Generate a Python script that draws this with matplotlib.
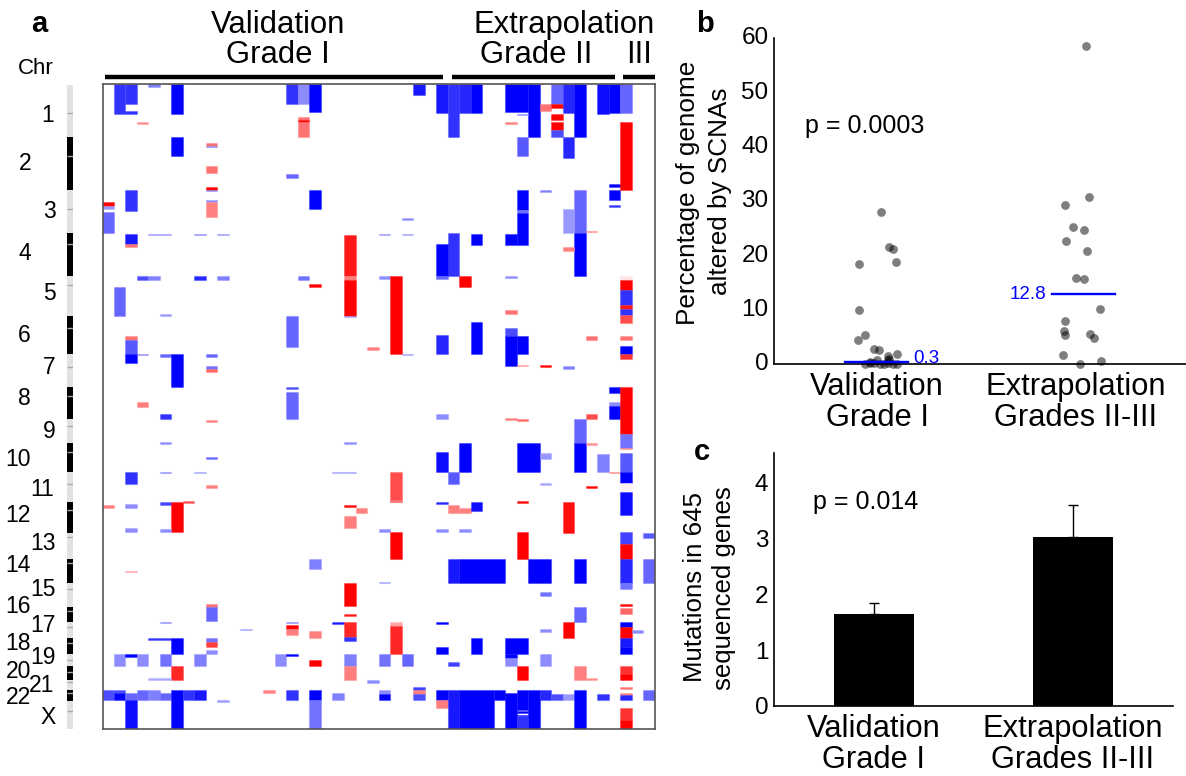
#!/bin/env python
# coding=utf-8

import matplotlib
matplotlib.use("Agg")
import matplotlib.pyplot as plt
from matplotlib.colors import LinearSegmentedColormap
from matplotlib.transforms import ScaledTranslation

plt.rcParams["font.family"] = ["Liberation Sans", "DejaVu Sans"]

W, H = 1186.0, 776.0

# 拷贝数片段: 首列, 末列, 基因组起点, 基因组终点, 水平 (负=缺失 蓝, 正=扩增 红)
validation_segs = [
    (1, 1, 84, 113.5, -.8), (2, 2, 84, 104, -.8), (2, 2, 111, 114, -.8), (4, 4, 84, 86.5, -.5),
    (6, 6, 84, 113.5, -1), (16, 16, 84, 104, -.8), (17, 17, 84, 104, -.45), (18, 18, 84, 112, -1),
    (3, 3, 122, 123.5, .45), (17, 17, 116.5, 120, .55), (17, 17, 120, 122, 1), (17, 17, 122, 137, .55),
    (6, 6, 137, 156, -1), (9, 9, 143, 146, .55), (9, 9, 146, 147, -.5), (9, 9, 166, 172.5, .55),
    (9, 9, 187, 190, 1), (9, 9, 190, 191, -.5), (9, 9, 199.5, 202, -.45), (9, 9, 202, 217, .5),
    (16, 16, 174, 178, -.6), (0, 0, 202, 206, 1), (0, 0, 206, 209, -.4), (0, 0, 211.5, 233, -.6),
    (2, 2, 190, 211, -.8), (18, 18, 190, 209, -1), (4, 5, 233.5, 234.5, -.45), (8, 8, 233.5, 234.5, -.5),
    (10, 10, 233.5, 234.5, -.45), (2, 2, 233.5, 244, -.9), (2, 2, 244, 247, .55), (24, 24, 233.5, 234.5, -.45),
    (26, 26, 233.5, 234.5, -.4), (26, 26, 218, 220, -.45), (21, 21, 235, 276, .9), (21, 21, 276, 280, .5),
    (21, 21, 280, 315.5, 1), (21, 21, 315.5, 317, -.4), (3, 3, 275.5, 280, -.7), (4, 4, 275.5, 280, -.5),
    (8, 8, 275.5, 280, -.85), (10, 10, 275.5, 280, -.5), (17, 17, 275.5, 280, -.55), (18, 18, 284, 286.5, 1),
    (1, 1, 286.5, 315.5, -.6), (5, 5, 314, 315.5, -.4), (16, 16, 315.5, 347, -.6), (2, 2, 336, 340, .55),
    (2, 2, 340, 354, -.65), (2, 2, 354, 363, -1), (3, 3, 354, 355, -.5), (5, 5, 354, 356.5, -.6),
    (6, 6, 354, 386.5, -1), (9, 9, 354, 356.5, -.6), (9, 9, 366, 369, -.55), (9, 9, 369, 371.5, .6),
    (16, 16, 386.5, 389, -.7), (16, 16, 392, 418.5, -.6), (3, 3, 401.5, 407, .5), (5, 5, 414, 418.5, -.8),
    (9, 9, 420, 421.5, .5), (5, 5, 442, 443.5, -.45), (21, 21, 442, 443.5, -.45), (9, 9, 457, 458.5, -.6),
    (5, 5, 472, 473, -.5), (8, 8, 472, 473, -.4), (20, 21, 472, 473, -.4), (2, 2, 472, 484, -.8),
    (9, 9, 485, 488, .5), (23, 23, 347, 350, .5), (24, 24, 275.5, 278.5, -.45), (25, 25, 275.5, 353.5, 1),
    (26, 26, 353.5, 355, -.4), (0, 0, 505, 507.7, .5), (2, 2, 503.5, 507.7, -.45), (5, 5, 502, 504.5, -.75),
    (6, 6, 502, 532, 1), (7, 7, 501, 502.5, .7), (2, 2, 528, 532, -.45), (5, 5, 528.5, 532, -.45),
    (24, 24, 528.5, 532, -.45), (21, 21, 505, 507, 1), (22, 22, 507.5, 513, .5), (21, 21, 516, 528, .5),
    (18, 18, 558.5, 569, -.5), (2, 2, 571, 572, .4), (24, 24, 582, 583, -.4), (21, 21, 583, 606, 1),
    (21, 21, 613.5, 616, .9), (9, 9, 604, 606.5, .55), (9, 9, 606.5, 621, -.6), (5, 5, 621.5, 623, -.5),
    (12, 12, 628.5, 630, -.4), (16, 16, 621.5, 623, -.5), (16, 16, 625, 628.5, 1), (16, 16, 628.5, 635, .5),
    (20, 20, 622, 623.5, -.9), (21, 21, 622, 637, .85), (21, 21, 637, 641, -.8), (18, 18, 631, 638, .5),
    (25, 25, 621.5, 626, .35), (25, 25, 626, 653.5, .85), (4, 5, 638, 639.5, -.8), (6, 6, 638, 653.5, -1),
    (9, 9, 638, 641.5, -.55), (9, 9, 641.5, 647, .75), (9, 9, 649.5, 653.5, -.45), (1, 1, 653.5, 666, -.45),
    (2, 2, 653.5, 656.5, -1), (3, 3, 653.5, 666, -.45), (5, 5, 653.5, 666, -.55), (8, 8, 653.5, 666, -.5),
    (15, 15, 653.5, 666, -.45), (16, 16, 653.5, 656, -1), (21, 21, 653.5, 666, -.5), (21, 21, 666, 679.5, .5),
    (24, 24, 653.5, 666, -.55), (26, 26, 653.5, 666, -.6), (6, 6, 666, 679.5, .85), (18, 18, 660, 666, 1),
    (4, 5, 678, 679.5, -.35), (23, 23, 680, 682.5, -.45), (25, 25, 472, 502, .7), (25, 25, 500, 502, .5),
    (25, 25, 532, 558.5, 1), (0, 0, 689.5, 700, -.7), (1, 1, 689.5, 693, -.7), (1, 1, 693, 700, -1),
    (2, 2, 693, 700, -.6), (2, 2, 700, 729, -.95), (3, 3, 689.5, 700, -.6), (4, 4, 689.5, 700, -.5),
    (5, 5, 693, 700, -.6), (6, 6, 689.5, 729, -1), (7, 7, 689.5, 700, -.8), (8, 8, 689.5, 700, -.9),
    (10, 10, 700, 702, -.4), (14, 14, 689.5, 693, .5), (16, 16, 689.5, 700, -.8), (18, 18, 689.5, 700, -1),
    (18, 18, 700, 729, -.55), (20, 20, 693, 700, -.5), (24, 24, 689.5, 693.5, -.45), (24, 24, 693.5, 700, -1),
    (27, 27, 686.5, 689.5, -.75), (27, 27, 689.5, 693.5, .5), (27, 27, 693.5, 700, -.7), (27, 27, 84, 94.5, -.9),
]

grade2_segs = [
    (29, 29, 84, 112.5, -.9), (30, 30, 84, 137, -.8), (31, 31, 84, 112.5, -.85), (32, 32, 84, 113, -1),
    (35, 36, 84, 112, -1), (37, 37, 84, 137, -1), (39, 39, 84, 104, -.6), (38, 38, 104, 111, .55),
    (39, 39, 104, 108, 1), (39, 39, 114, 120, 1), (39, 39, 122, 130, 1), (39, 39, 130, 137, -.7),
    (40, 40, 84, 112.5, -.85), (41, 41, 84, 137, -1), (36, 36, 113.5, 115, -.5), (35, 35, 122, 123.5, .5),
    (36, 36, 137, 156, -.65), (40, 40, 137, 157.5, -.85), (43, 43, 84, 113.5, -.95), (44, 44, 84, 112.5, -1),
    (44, 44, 183.5, 186.5, -1), (44, 44, 190, 200, -1), (44, 44, 204.5, 207, -.8), (38, 38, 190, 191.5, -.5),
    (36, 36, 190, 209.5, -1), (36, 36, 209.5, 213, -.55), (36, 36, 213, 244.5, -1), (35, 35, 233.5, 244.5, -1),
    (41, 41, 190, 233, -.6), (41, 41, 233, 275.5, -1), (40, 40, 209, 233, -.4), (40, 40, 247, 251, .5),
    (42, 42, 231, 232, .5), (30, 30, 233, 275.5, -.8), (29, 29, 244, 276, -1), (29, 29, 276, 278.5, -.6),
    (32, 32, 233.5, 244.5, -1), (31, 31, 275.5, 286.5, 1), (35, 35, 275.5, 278, -.45), (35, 35, 310, 314, .55),
    (35, 35, 328, 336, -.7), (35, 35, 336, 366, -1), (36, 36, 336, 353.5, -1), (36, 36, 365, 366, .45),
    (38, 38, 365, 366.5, 1), (40, 40, 366, 368.5, -.5), (42, 42, 336, 340, .55), (29, 29, 334.5, 353.5, -.85),
    (32, 32, 322, 353.5, -1), (44, 44, 386.5, 393, -1), (44, 44, 402, 406, -.45), (44, 44, 406, 418.5, -1),
    (29, 29, 414, 418.5, -.45), (35, 35, 418, 420, .5), (36, 36, 418.5, 421, .6), (42, 42, 414, 418.5, .7),
    (41, 41, 418.5, 443, -.6), (41, 41, 443, 472, -1), (42, 42, 443, 444.5, .45), (29, 29, 451.5, 472, -.95),
    (31, 31, 443, 472, -1), (30, 30, 472, 484, -.65), (36, 37, 443, 472, -1), (38, 38, 453, 458.5, -.4),
    (38, 38, 483, 484.5, -.35), (43, 43, 454, 472, -.5), (44, 44, 472, 473, .5), (42, 42, 486, 487.5, 1),
    (29, 29, 502, 504, -.85), (30, 30, 505, 513, .5), (31, 31, 507.5, 513, .5), (32, 32, 502, 510.5, -.95),
    (36, 36, 501, 502.5, 1), (40, 40, 502, 532.5, .95), (29, 29, 528.5, 532, -.45), (31, 31, 528.5, 532, -.45),
    (36, 36, 532, 558.5, 1), (30, 30, 558.5, 583, -.9), (31, 34, 558.5, 583, -1), (37, 38, 558.5, 583, -1),
    (41, 41, 558.5, 583, -1), (38, 38, 591.5, 595.5, -.55), (41, 41, 606.5, 621.5, -.6), (40, 40, 621.5, 638, 1),
    (29, 29, 622, 624, -1), (29, 29, 646.5, 653.5, -1), (32, 32, 638, 653.5, -1), (35, 36, 638, 653.5, -1),
    (35, 35, 653.5, 657.5, -1), (35, 35, 657.5, 666, -.45), (38, 38, 629, 631.5, -.45), (38, 38, 653.5, 666, -.45),
    (30, 30, 662, 666, -.75), (36, 36, 666, 679.5, 1), (41, 41, 666, 679.5, .5), (42, 42, 678, 680, .45),
    (29, 29, 689.5, 700, -1), (29, 29, 700, 707.5, .5), (30, 30, 689.5, 729, -.9), (31, 33, 689.5, 729, -1),
    (34, 34, 689.5, 700, -1), (35, 35, 693, 729, -1), (36, 36, 689.5, 709.5, -1), (36, 36, 710.5, 713, -1),
    (36, 36, 714.5, 716, -1), (36, 36, 716, 729, -.8), (37, 37, 689.5, 729, -1), (38, 38, 689.5, 700, -.85),
    (39, 39, 693.5, 700, -.7), (40, 40, 693.5, 700, -.4), (41, 41, 689.5, 729, -1), (43, 43, 693.5, 700, -.8),
]

grade3_segs = [
    (45, 45, 84, 112.5, -.6), (45, 45, 122, 189.5, 1), (45, 45, 276, 280, .1), (45, 45, 280, 290, 1),
    (45, 45, 290, 304.5, -.8), (45, 45, 304.5, 309, .9), (45, 45, 309, 315, -.8), (45, 45, 315, 323, .7),
    (45, 45, 336, 340, .55), (45, 45, 346, 354, -1), (45, 45, 354, 359, .8), (45, 45, 386.5, 433.5, 1),
    (45, 45, 433.5, 448, -.55), (45, 45, 448, 449, .5), (45, 45, 453, 472, -.65), (45, 45, 472, 483, -1),
    (45, 45, 483, 491, .05), (45, 45, 491.5, 514.5, -.95), (45, 45, 532, 543.5, -.75), (45, 45, 543.5, 558.5, 1),
    (45, 45, 558.5, 583, -.85), (45, 45, 583, 588.5, -.55), (47, 47, 532.5, 538, -.65), (47, 47, 558.5, 583, -.6),
    (45, 45, 603.5, 606, 1), (45, 45, 608, 613.5, .6), (45, 45, 621.5, 627, -1), (45, 45, 627, 638, 1),
    (45, 45, 638, 647, -.9), (45, 45, 647, 653.5, -1), (46, 46, 630, 632.5, -.45), (45, 45, 666, 674, .8),
    (45, 45, 674, 679.5, 1), (45, 45, 686.5, 689, .55), (45, 45, 693, 695, .5), (45, 45, 695, 700, -.85),
    (45, 45, 707.5, 719.5, .8), (45, 45, 719.5, 729, 1), (47, 47, 689.5, 700, -.6),
]

# 染色体条带
chr_edges = [85, 137, 190, 233, 276, 315.5, 354, 386.5, 418.5, 443, 472, 502, 532.5, 558.5,
             583, 606.5, 621.5, 638, 653.5, 666, 680, 689.5, 700.5, 729]
chr_centromeres = [113, 156, 209, 244, 284.7, 328, 367, 395.7, 425.7, 452, 483.7, 510, 537, 562.7,
                   589, 611, 626.7, 642.7, 660, 672, 681.7, 692.7, 710.7]
chr_names = ["1", "2", "3", "4", "5", "6", "7", "8", "9", "10", "11", "12", "13", "14", "15",
             "16", "17", "18", "19", "20", "21", "22", "X"]
chr_label_y = [116, 163, 212, 254, 294, 335, 368, 399, 431, 459, 489, 516, 544, 566, 590,
               606.7, 625, 644, 658, 672, 685, 697, 717]
chr_label_x = [54, 31, 56, 31, 56, 31, 56, 31, 56, 31, 54, 31, 56, 31, 56,
               31, 56, 31, 56, 31, 54, 31, 56]

# b 图: 抖动偏移和 SCNA 百分比
val_offset = [.02, .059, .08, .094, -.089, -.089, -.059, -.097, -.015, .012, .099, .055,
              -.002, .059, .055, -.035, -.06, -.035, -.015, .015, .035, .08, .099, .057]
val_scna = [28.0, 21.5, 21.1, 18.8, 18.4, 10.0, 5.4, 4.5, 2.8, 2.6, 1.9, 1.5,
            .7, 1.0, .7, .3, 0, .1, .1, 0, 0, 0, 0, .2]
ext_offset = [.05, .065, -.055, -.017, .042, -.05, .055, -.002, .039, .122, -.054, -.059,
              -.055, .069, .089, -.064, .124, .022]
ext_scna = [58.5, 30.8, 29.3, 25.3, 24.7, 22.6, 20.8, 15.8, 15.6, 10.1, 7.85, 6.0,
            5.4, 5.5, 4.7, 1.7, .5, 0]
scna_means = [.3, 12.8]

# c 图: 突变数
group_labels = ["Validation\nGrade I", "Extrapolation\nGrades II-III"]
mutations = [1.65, 3.03]
mutation_err = [.2, .57]


def px_axes(fig, x0, y0, x1, y1):
    # 按像素位置建立坐标轴, y 从图片顶部算起
    return fig.add_axes([x0 / W, 1 - y1 / H, (x1 - x0) / W, (y1 - y0) / H])


def px_text(fig, x, y, s, **kw):
    kw.setdefault("ha", "center")
    kw.setdefault("va", "center")
    fig.text(x / W, 1 - y / H, s, **kw)


fig = plt.figure(figsize=(W / 100, H / 100), dpi=100)
cmap = LinearSegmentedColormap.from_list("cn", ["#0000ff", "#ffffff", "#ff0000"])

# ---------- a 图 ----------
ax = px_axes(fig, 103, 84, 655, 729)
for segs in [validation_segs, grade2_segs, grade3_segs]:
    for first, last, top, bottom, level in segs:
        c = cmap((level + 1) / 2.0)
        ax.bar(first, bottom - top, width=last - first + 1, bottom=top, align="edge",
               color=c, edgecolor=c[:3] + (.3,), linewidth=.8)
ax.set_xlim(.08, 48)
ax.set_ylim(729, 84)
ax.set_xticks([])
ax.set_yticks([])
for s in ax.spines.values():
    s.set_color("#555555")
    s.set_linewidth(1.2)

# 染色体条
ax_chr = px_axes(fig, 67, 84, 73, 729)
for i in range(len(chr_names)):
    ax_chr.bar(0, chr_edges[i + 1] - chr_edges[i], width=.93, bottom=chr_edges[i], align="edge",
               color="black" if i % 2 else "#e2e2e2", linewidth=0)
ax_chr.hlines(chr_centromeres, 0, 1, color="#a8a8a8", linewidth=1)
ax_chr.set_xlim(0, 1)
ax_chr.set_ylim(729, 84)
ax_chr.axis("off")
for name, lx, ly in zip(chr_names, chr_label_x, chr_label_y):
    px_text(fig, lx, ly, name, ha="right", fontsize=16.5)
px_text(fig, 36, 68, "Chr", fontsize=16)
px_text(fig, 39, 24, "a", fontsize=21, fontweight="bold")

px_text(fig, 278, 33, "Validation", fontsize=22.3, va="baseline")
px_text(fig, 278, 63, "Grade I", fontsize=22.3, va="baseline")
px_text(fig, 564, 33, "Extrapolation", fontsize=22.3, va="baseline")
px_text(fig, 536, 63, "Grade II", fontsize=22.3, va="baseline")
px_text(fig, 639, 63, "III", fontsize=22.3, va="baseline")
for x0, x1 in [(105, 443), (452, 615), (622.5, 655)]:
    fig.add_artist(plt.Line2D([x0 / W, x1 / W], [1 - 77 / H, 1 - 77 / H], color="black",
                              linewidth=3.2, solid_capstyle="butt"))

# ---------- b 图 ----------
ax_b = px_axes(fig, 774, 38, 1186, 364)
ax_b.scatter(val_offset, val_scna, s=40, color="black", alpha=.5, linewidths=0, clip_on=False, zorder=3)
ax_b.scatter([1 + o for o in ext_offset], ext_scna, s=40, color="black", alpha=.5, linewidths=0,
             clip_on=False, zorder=3)
ax_b.plot([-.16, .156], [scna_means[0]] * 2, color="#0000ff", linewidth=1.7, zorder=4)
ax_b.plot([.88, 1.196], [scna_means[1]] * 2, color="#0000ff", linewidth=1.7, zorder=4)
ax_b.text(.18, scna_means[0] + .8, "0.3", color="#0000ff", fontsize=13.5, va="center")
ax_b.text(.85, scna_means[1], "12.8", color="#0000ff", fontsize=13.5, va="center", ha="right")
ax_b.set_xlim(-.5176, 1.5528)
ax_b.set_ylim(0, 60)
ax_b.set_yticks(range(0, 61, 10))
ax_b.set_xticks([0, 1])
ax_b.set_xticklabels(group_labels, linespacing=1.02)
ax_b.tick_params(axis="both", length=0)
ax_b.tick_params(axis="y", labelsize=17.5, pad=4)
ax_b.tick_params(axis="x", labelsize=22.2, pad=6)
for lab in ax_b.get_yticklabels():
    lab.set_transform(lab.get_transform() + ScaledTranslation(0, 1.5 / 72, fig.dpi_scale_trans))
ax_b.spines["top"].set_visible(False)
ax_b.spines["right"].set_visible(False)
ax_b.spines["left"].set_linewidth(1.2)
ax_b.spines["bottom"].set_linewidth(1.2)
ax_b.patch.set_alpha(0)
px_text(fig, 865, 126, "p = 0.0003", fontsize=18)
px_text(fig, 688, 193, "Percentage of genome", fontsize=18.8, rotation=90)
px_text(fig, 719.5, 191, "altered by SCNAs", fontsize=18.8, rotation=90)
px_text(fig, 705, 24, "b", fontsize=21, fontweight="bold")

# ---------- c 图 ----------
ax_c = px_axes(fig, 774, 453, 1172.7, 706)
ax_c.bar([0, 1], mutations, width=.402, color="black",
         yerr=[[0, 0], mutation_err], ecolor="black",
         error_kw={"elinewidth": 1, "capsize": 3.5, "capthick": 1})
ax_c.set_xlim(-.5025, 1.501)
ax_c.set_ylim(0, 4.53)
ax_c.set_yticks(range(5))
ax_c.set_xticks([0, 1])
ax_c.set_xticklabels(group_labels, linespacing=1.02)
ax_c.tick_params(axis="both", length=0)
ax_c.tick_params(axis="y", labelsize=17.5, pad=4)
ax_c.tick_params(axis="x", labelsize=22.2, pad=6)
ax_c.spines["top"].set_visible(False)
ax_c.spines["right"].set_visible(False)
ax_c.spines["left"].set_linewidth(1.2)
ax_c.spines["bottom"].set_linewidth(1.2)
px_text(fig, 866, 502, "p = 0.014", fontsize=18)
px_text(fig, 695, 587, "Mutations in 645", fontsize=18.6, rotation=90)
px_text(fig, 724.5, 588, "sequenced genes", fontsize=18.6, rotation=90)
px_text(fig, 702, 452, "c", fontsize=21, fontweight="bold")

fig.savefig("out.png", dpi=100)
